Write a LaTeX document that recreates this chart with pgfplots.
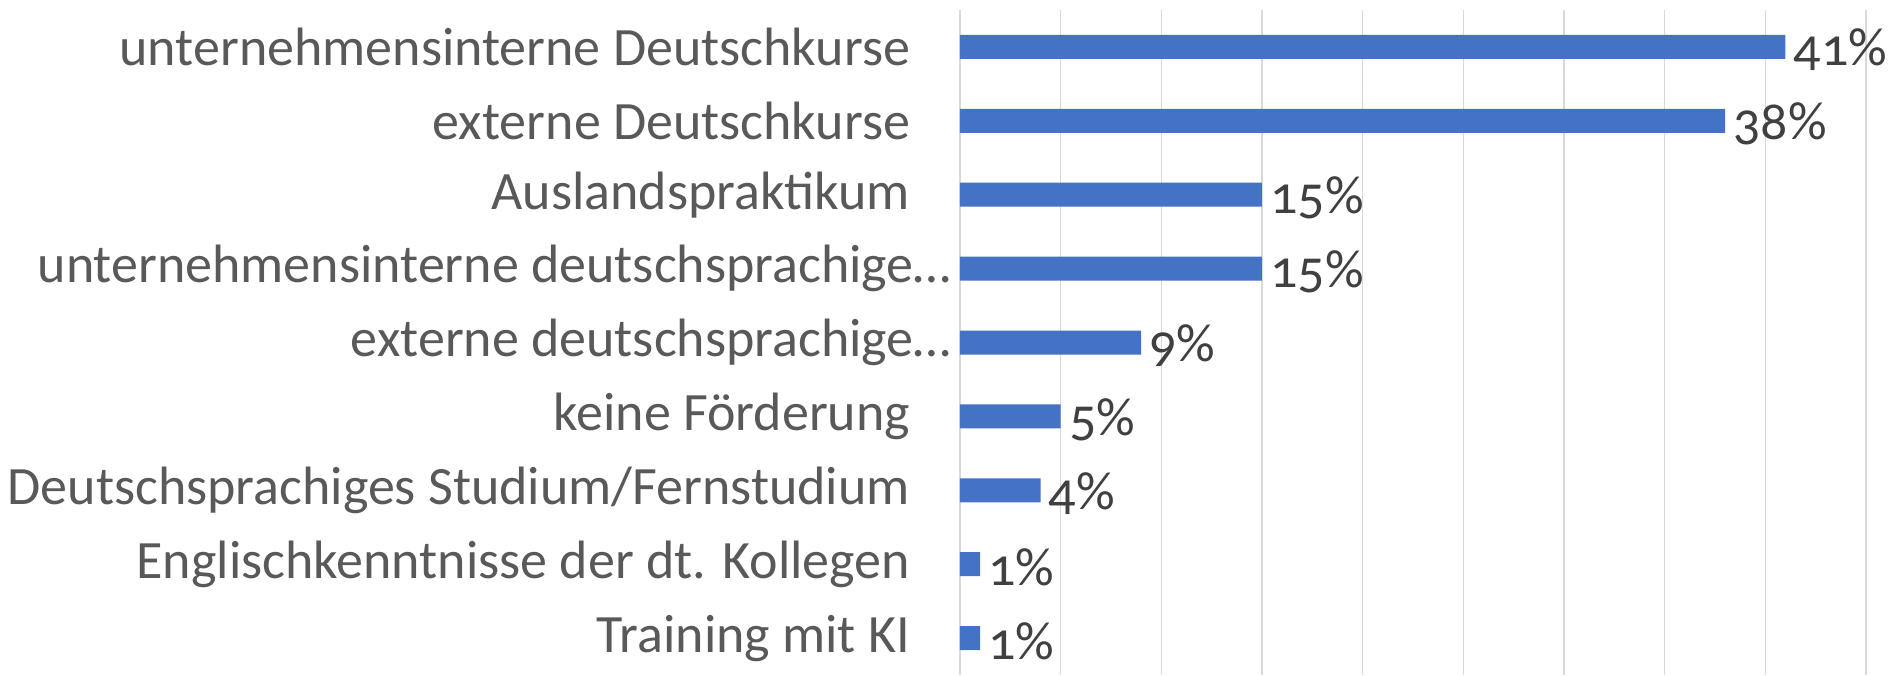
\documentclass[border=0pt]{standalone}
\usepackage{fontspec}
\setmainfont[Numbers=OldStyle]{Carlito}
\usepackage{pgfplots}
\pgfplotsset{compat=1.18}
\definecolor{barblue}{HTML}{4472C4}
\definecolor{labelgray}{HTML}{595959}
\definecolor{valgray}{HTML}{404040}
\definecolor{gridgray}{HTML}{D9D9D9}
\begin{document}
\begin{tikzpicture}
\begin{axis}[
  scale only axis, width=453pt, height=332.5pt,
  xmin=0, xmax=45, ymin=-0.5, ymax=8.5, y dir=reverse,
  xtick={0,5,...,45}, xticklabels={},
  xmajorgrids, grid style={gridgray, line width=0.8pt},
  axis line style={draw=none}, major tick style={draw=none},
  ytick={0,...,8},
  yticklabels={
    unternehmensinterne Deutschkurse\kern20.5pt,
    externe Deutschkurse\kern20.5pt,
    Auslandspraktikum\kern20.5pt,
    unternehmensinterne deutschsprachige…,
    externe deutschsprachige…,
    keine Förderung\kern20.5pt,
    Deutschsprachiges Studium/Fernstudium\kern20.5pt,
    Englischkenntnisse der dt. Kollegen\kern20.5pt,
    Training mit KI\kern20.5pt},
  yticklabel style={font=\fontsize{27}{32}\selectfont, text=labelgray, inner xsep=0pt, xshift=0pt},
  xbar, bar width=12pt,
  /pgf/number format/assume math mode=true,
  nodes near coords={\pgfmathprintnumber{\pgfplotspointmeta}\%},
  nodes near coords style={font=\fontsize{27}{32}\selectfont, text=valgray, anchor=west, inner xsep=4pt, yshift=-1.5pt},
  point meta=explicit,
]
\addplot[fill=barblue, draw=none] coordinates {
  (41,0) [41] (38,1) [38] (15,2) [15] (15,3) [15] (9,4) [9]
  (5,5) [5] (4,6) [4] (1,7) [1] (1,8) [1]};
\end{axis}
\pgfresetboundingbox
\path (-480pt,0) rectangle (472pt,337.5pt);
\end{tikzpicture}
\end{document}
